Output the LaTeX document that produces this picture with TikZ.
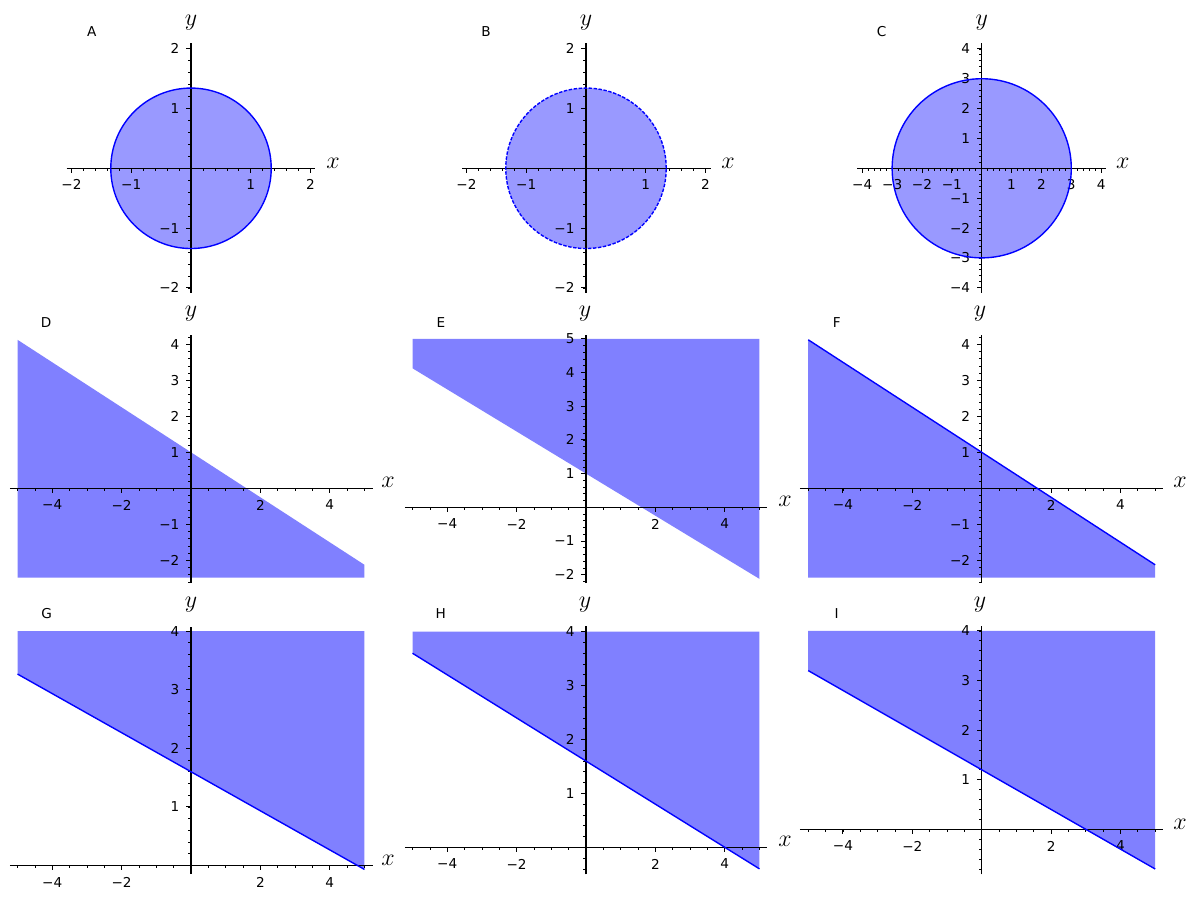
\documentclass[tikz,border=0pt]{standalone}
\usepackage{fontspec}
\setmainfont{DejaVu Sans}

\newcommand{\ticksize}{\fontsize{9.8}{11.5}\selectfont}
\tikzset{
  axisline/.style={black, line width=0.8pt},
  majortick/.style={black, line width=0.7pt},
  minortick/.style={black, line width=0.5pt},
  xtick/.style={anchor=north, inner sep=0pt, yshift=-4.5pt, font=\ticksize},
  ytick/.style={anchor=east, inner sep=0pt, xshift=-4.5pt, font=\ticksize},
  axislabel/.style={inner sep=0pt, font=\fontsize{17.28}{20}\selectfont},
  panellabel/.style={inner sep=0pt, font=\ticksize},
  disk/.style={fill=blue!40},
  region/.style={fill=blue!50},
  boundary/.style={blue, line width=1pt},
}

\begin{document}
\begin{tikzpicture}[x=0.72pt, y=-0.72pt]
\useasboundingbox[fill=white] (0,0) rectangle (1196,899);

% row 1: disks
\begin{scope}[shift={(191,168.3)}, x=43.04pt, y=43.04pt]
  \fill[disk] (0,0) circle (1.342);
  \draw[axisline] (-2.08,0) -- (2.08,0);
  \draw[axisline] (0,-2.08) -- (0,2.09);
  \foreach \i in {-10,...,10} {
    \draw[minortick] (\i/5,0) -- ++(0,-2pt);
    \draw[minortick] (0,\i/5) -- ++(-2pt,0);
  }
  \foreach \v/\t in {-2/−2,-1/−1,1/1,2/2} {
    \draw[majortick] (\v,0) -- ++(0,-3.5pt) node[xtick] {\t};
    \draw[majortick] (0,\v) -- ++(-3.5pt,0) node[ytick] {\t};
  }
  \draw[boundary] (0,0) circle (1.342);
\end{scope}
\node[panellabel] (pA) at (91.7,31.7) {A};
\node[axislabel] (xA) at (333,163) {$x$};
\node[axislabel] (yA) at (191,23) {$y$};

\begin{scope}[shift={(586,168.3)}, x=43.04pt, y=43.04pt]
  \fill[disk] (0,0) circle (1.342);
  \draw[axisline] (-2.07,0) -- (2.085,0);
  \draw[axisline] (0,-2.08) -- (0,2.09);
  \foreach \i in {-10,...,10} {
    \draw[minortick] (\i/5,0) -- ++(0,-2pt);
    \draw[minortick] (0,\i/5) -- ++(-2pt,0);
  }
  \foreach \v/\t in {-2/−2,-1/−1,1/1,2/2} {
    \draw[majortick] (\v,0) -- ++(0,-3.5pt) node[xtick] {\t};
    \draw[majortick] (0,\v) -- ++(-3.5pt,0) node[ytick] {\t};
  }
  \draw[boundary, dash pattern=on 2.5pt off 1.1pt] (0,0) circle (1.342);
\end{scope}
\node[panellabel] (pB) at (486,31.7) {B};
\node[axislabel] (xB) at (728,163) {$x$};
\node[axislabel] (yB) at (586,23) {$y$};

\begin{scope}[shift={(981.7,168.3)}, x=21.5pt, y=21.5pt]
  \fill[disk] (0,0) circle (3);
  \draw[axisline] (-4.16,0) -- (4.15,0);
  \draw[axisline] (0,-4.16) -- (0,4.2);
  \foreach \i in {-20,...,20} {
    \draw[minortick] (\i/5,0) -- ++(0,-2pt);
    \draw[minortick] (0,\i/5) -- ++(-2pt,0);
  }
  \foreach \v/\t in {-4/−4,-3/−3,-2/−2,-1/−1,1/1,2/2,3/3,4/4} {
    \draw[majortick] (\v,0) -- ++(0,-3.5pt) node[xtick] {\t};
    \draw[majortick] (0,\v) -- ++(-3.5pt,0) node[ytick] {\t};
  }
  \draw[boundary] (0,0) circle (3);
\end{scope}
\node[panellabel] (pC) at (881.7,31.7) {C};
\node[axislabel] (xC) at (1122.7,163) {$x$};
\node[axislabel] (yC) at (981.7,23) {$y$};

% row 2: half planes with the line y = 1 - 5x/8
\begin{scope}[shift={(191,488.3)}, x=24.98pt, y=25.92pt]
  \fill[region] (-5,-2.48) -- (-5,4.125) -- (5,-2.125) -- (5,-2.48) -- cycle;
  \draw[axisline] (-5.22,0) -- (5.24,0);
  \draw[axisline] (0,-2.63) -- (0,4.26);
  \foreach \i in {-10,...,10}
    \draw[minortick] (\i/2,0) -- ++(0,-2pt);
  \foreach \i in {-13,...,21}
    \draw[minortick] (0,\i/5) -- ++(-2pt,0);
  \foreach \v/\t in {-4/−4,-2/−2,2/2,4/4}
    \draw[majortick] (\v,0) -- ++(0,-3.5pt) node[xtick] {\t};
  \foreach \v/\t in {-2/−2,-1/−1,1/1,2/2,3/3,4/4}
    \draw[majortick] (0,\v) -- ++(-3.5pt,0) node[ytick] {\t};
\end{scope}
\node[panellabel] (pD) at (46,322.7) {D};
\node[axislabel] (xD) at (388,482.7) {$x$};
\node[axislabel] (yD) at (191,314) {$y$};

\begin{scope}[shift={(586,507.3)}, x=24.98pt, y=24.26pt]
  \fill[region] (-5,4.125) -- (-5,5) -- (5,5) -- (5,-2.125) -- cycle;
  \draw[axisline] (-5.22,0) -- (5.23,0);
  \draw[axisline] (0,-2.25) -- (0,5.12);
  \foreach \i in {-10,...,10}
    \draw[minortick] (\i/2,0) -- ++(0,-2pt);
  \foreach \i in {-11,...,25}
    \draw[minortick] (0,\i/5) -- ++(-2pt,0);
  \foreach \v/\t in {-4/−4,-2/−2,2/2,4/4}
    \draw[majortick] (\v,0) -- ++(0,-3.5pt) node[xtick] {\t};
  \foreach \v/\t in {-2/−2,-1/−1,1/1,2/2,3/3,4/4,5/5}
    \draw[majortick] (0,\v) -- ++(-3.5pt,0) node[ytick] {\t};
\end{scope}
\node[panellabel] (pE) at (441,322.7) {E};
\node[axislabel] (xE) at (785,501.7) {$x$};
\node[axislabel] (yE) at (585,314) {$y$};

\begin{scope}[shift={(981.7,488.3)}, x=24.98pt, y=25.92pt]
  \fill[region] (-5,-2.48) -- (-5,4.125) -- (5,-2.125) -- (5,-2.48) -- cycle;
  \draw[axisline] (-5.24,0) -- (5.22,0);
  \draw[axisline] (0,-2.63) -- (0,4.26);
  \foreach \i in {-10,...,10}
    \draw[minortick] (\i/2,0) -- ++(0,-2pt);
  \foreach \i in {-13,...,21}
    \draw[minortick] (0,\i/5) -- ++(-2pt,0);
  \foreach \v/\t in {-4/−4,-2/−2,2/2,4/4}
    \draw[majortick] (\v,0) -- ++(0,-3.5pt) node[xtick] {\t};
  \foreach \v/\t in {-2/−2,-1/−1,1/1,2/2,3/3,4/4}
    \draw[majortick] (0,\v) -- ++(-3.5pt,0) node[ytick] {\t};
  \draw[boundary] (-5,4.125) -- (5,-2.125);
\end{scope}
\node[panellabel] (pF) at (836.7,322.7) {F};
\node[axislabel] (xF) at (1180,482.7) {$x$};
\node[axislabel] (yF) at (980,314) {$y$};

% row 3: regions above a line, cut at y = 4
\begin{scope}[shift={(191,865.5)}, x=24.98pt, y=42.19pt]
  \fill[region] (-5,3.267) -- (-5,4) -- (5,4) -- (5,-0.067) -- cycle;
  \draw[axisline] (-5.22,0) -- (5.24,0);
  \draw[axisline] (0,-0.145) -- (0,4.07);
  \foreach \i in {-10,...,10}
    \draw[minortick] (\i/2,0) -- ++(0,-2pt);
  \foreach \i in {0,...,20}
    \draw[minortick] (0,\i/5) -- ++(-2pt,0);
  \foreach \v/\t in {-4/−4,-2/−2,2/2,4/4}
    \draw[majortick] (\v,0) -- ++(0,-3.5pt) node[xtick] {\t};
  \foreach \v in {1,2,3,4}
    \draw[majortick] (0,\v) -- ++(-3.5pt,0) node[ytick] {\v};
  \draw[boundary] (-5,3.267) -- (5,-0.067);
\end{scope}
\node[panellabel] (pG) at (46.7,614) {G};
\node[axislabel] (xG) at (388,860) {$x$};
\node[axislabel] (yG) at (191,605) {$y$};

\begin{scope}[shift={(586,847.3)}, x=24.98pt, y=38.81pt]
  \fill[region] (-5,3.6) -- (-5,4) -- (5,4) -- (5,-0.4) -- cycle;
  \draw[axisline] (-5.22,0) -- (5.23,0);
  \draw[axisline] (0,-0.5) -- (0,4.11);
  \foreach \i in {-10,...,10}
    \draw[minortick] (\i/2,0) -- ++(0,-2pt);
  \foreach \i in {-2,...,20}
    \draw[minortick] (0,\i/5) -- ++(-2pt,0);
  \foreach \v/\t in {-4/−4,-2/−2,2/2,4/4}
    \draw[majortick] (\v,0) -- ++(0,-3.5pt) node[xtick] {\t};
  \foreach \v in {1,2,3,4}
    \draw[majortick] (0,\v) -- ++(-3.5pt,0) node[ytick] {\v};
  \draw[boundary] (-5,3.6) -- (5,-0.4);
\end{scope}
\node[panellabel] (pH) at (440.7,614) {H};
\node[axislabel] (xH) at (785,841.7) {$x$};
\node[axislabel] (yH) at (585,605) {$y$};

\begin{scope}[shift={(981.7,829.3)}, x=24.98pt, y=35.71pt]
  \fill[region] (-5,3.2) -- (-5,4) -- (5,4) -- (5,-0.8) -- cycle;
  \draw[axisline] (-5.24,0) -- (5.22,0);
  \draw[axisline] (0,-0.91) -- (0,4.1);
  \foreach \i in {-10,...,10}
    \draw[minortick] (\i/2,0) -- ++(0,-2pt);
  \foreach \i in {-4,...,20}
    \draw[minortick] (0,\i/5) -- ++(-2pt,0);
  \foreach \v/\t in {-4/−4,-2/−2,2/2,4/4}
    \draw[majortick] (\v,0) -- ++(0,-3.5pt) node[xtick] {\t};
  \foreach \v in {1,2,3,4}
    \draw[majortick] (0,\v) -- ++(-3.5pt,0) node[ytick] {\v};
  \draw[boundary] (-5,3.2) -- (5,-0.8);
\end{scope}
\node[panellabel] (pI) at (836.7,614) {I};
\node[axislabel] (xI) at (1180,824.3) {$x$};
\node[axislabel] (yI) at (980,605) {$y$};
\end{tikzpicture}
\end{document}
